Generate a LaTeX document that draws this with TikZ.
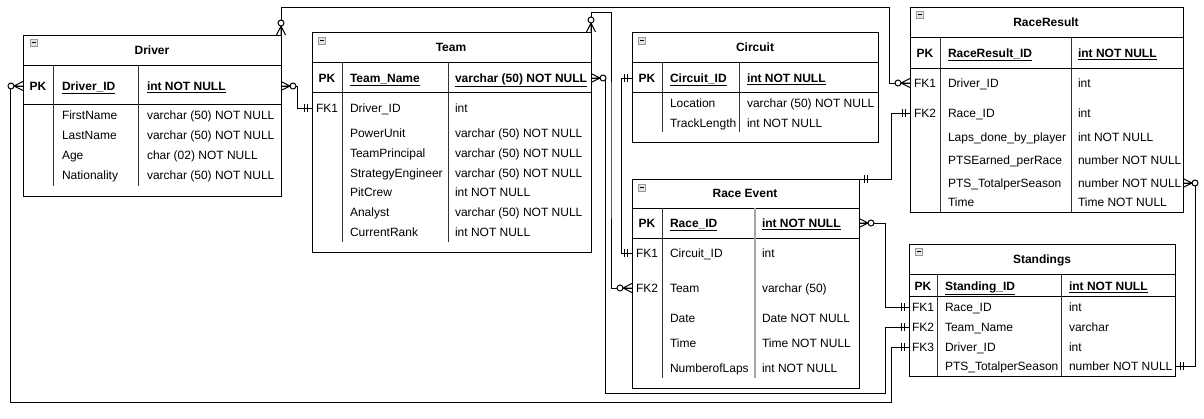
\documentclass[tikz,border=0pt]{standalone}
\usepackage{fontspec}
\setmainfont{Liberation Sans}
\begin{document}
\begin{tikzpicture}[x=1pt,y=-1pt,
  tbox/.style={draw, line width=1pt, rectangle, inner sep=0pt, outer sep=0pt, anchor=north west, fill=white},
  sepl/.style={line width=1pt},
  coll/.style={line width=1pt, black!80},
  fld/.style={anchor=west, inner sep=0pt, outer sep=0pt, font=\fontsize{12}{14}\selectfont, text height=8.6pt, text depth=0pt},
  key/.style={fld, font=\fontsize{12}{14}\selectfont\bfseries},
  ttl/.style={anchor=center, inner sep=0pt, font=\fontsize{12}{14}\selectfont\bfseries, text height=8.6pt, text depth=0pt},
  pkl/.style={ttl},
  fkl/.style={anchor=center, inner sep=0pt, font=\fontsize{12}{14}\selectfont, text height=8.6pt, text depth=0pt},
  conn/.style={line width=1pt},
  mk/.style={line width=1pt},
  icon/.pic={\draw[gray!80, fill=gray!20, line width=0.8pt] (0,0) rectangle (7,7); \draw[line width=0.8pt] (1.5,3.5) -- (5.5,3.5);},
  zmany/.pic={\draw[mk] (0,-4.5) -- (-9,0) -- (0,4.5) (0,0) -- (-9,0); \draw[mk, fill=white] (-12,0) circle (3);},
  oneone/.pic={\draw[mk] (-5,-4) -- (-5,4) (-8,-4) -- (-8,4);}
]
\useasboundingbox (0,0) rectangle (1204,418);
\fill[white] (0,0) rectangle (1204,418);

% ---------- table boxes (nodes) ----------
\node[tbox, minimum width=258pt, minimum height=161pt] (driver) at (23,35) {};
\node[tbox, minimum width=279pt, minimum height=220pt] (team) at (312,32) {};
\node[tbox, minimum width=246pt, minimum height=110pt] (circuit) at (632,32) {};
\node[tbox, minimum width=227pt, minimum height=209pt] (re) at (632,179) {};
\node[tbox, minimum width=273pt, minimum height=205pt] (rr) at (910,7) {};
\node[tbox, minimum width=266pt, minimum height=132pt] (standings) at (909,244) {};

% ---------- Driver ----------
\pic at (30,39) {icon};
\node[ttl] (drvT) at (152,50) {Driver};
\draw[sepl] (23,65) -- (281,65) (23,104) -- (281,104);
\draw[coll] (53,65) -- (53,186) (138,65) -- (138,186);
\node[pkl] (drvpkl) at (38,86) {PK};
\node[key] (drvpk) at (62,86) {\underline{Driver\_ID}};
\node[key] (drvpkt) at (147,86) {\underline{int NOT NULL}};
\node[fld] (drv1) at (62,115) {FirstName};
\node[fld] (drv1t) at (147,115) {varchar (50) NOT NULL};
\node[fld] (drv2) at (62,135) {LastName};
\node[fld] (drv2t) at (147,135) {varchar (50) NOT NULL};
\node[fld] (drv3) at (62,155) {Age};
\node[fld] (drv3t) at (147,155) {char (02) NOT NULL};
\node[fld] (drv4) at (62,175) {Nationality};
\node[fld] (drv4t) at (147,175) {varchar (50) NOT NULL};

% ---------- Team ----------
\pic at (318,37) {icon};
\node[ttl] (tmT) at (451,47) {Team};
\draw[sepl] (312,62) -- (591,62) (312,92) -- (591,92);
\draw[coll] (342,62) -- (342,242) (448,62) -- (448,242);
\node[pkl] (tmpkl) at (327,78) {PK};
\node[key] (tmpk) at (350,78) {\underline{Team\_Name}};
\node[key] (tmpkt) at (455,78) {\underline{varchar (50) NOT NULL}};
\node[fkl] (tmfk1) at (327,108) {FK1};
\node[fld] (tm1) at (350,108) {Driver\_ID};
\node[fld] (tm1t) at (455,108) {int};
\node[fld] (tm2) at (350,133) {PowerUnit};
\node[fld] (tm2t) at (455,133) {varchar (50) NOT NULL};
\node[fld] (tm3) at (350,153) {TeamPrincipal};
\node[fld] (tm3t) at (455,153) {varchar (50) NOT NULL};
\node[fld] (tm4) at (350,173) {StrategyEngineer};
\node[fld] (tm4t) at (455,173) {varchar (50) NOT NULL};
\node[fld] (tm5) at (350,192) {PitCrew};
\node[fld] (tm5t) at (455,192) {int NOT NULL};
\node[fld] (tm6) at (350,212) {Analyst};
\node[fld] (tm6t) at (455,212) {varchar (50) NOT NULL};
\node[fld] (tm7) at (350,232) {CurrentRank};
\node[fld] (tm7t) at (455,232) {int NOT NULL};

% ---------- Circuit ----------
\pic at (638,37) {icon};
\node[ttl] (cirT) at (755,47) {Circuit};
\draw[sepl] (632,62) -- (878,62) (632,92) -- (878,92);
\draw[coll] (662,62) -- (662,132) (739,62) -- (739,132);
\node[pkl] (cirpkl) at (647,78) {PK};
\node[key] (cirpk) at (670,78) {\underline{Circuit\_ID}};
\node[key] (cirpkt) at (747,78) {\underline{int NOT NULL}};
\node[fld] (cir1) at (670,103) {Location};
\node[fld] (cir1t) at (747,103) {varchar (50) NOT NULL};
\node[fld] (cir2) at (670,123) {TrackLength};
\node[fld] (cir2t) at (747,123) {int NOT NULL};

% ---------- Race Event ----------
\pic at (638,184) {icon};
\node[ttl] (reT) at (745,193) {Race Event};
\draw[sepl] (632,208) -- (859,208) (632,238) -- (859,238);
\draw[coll] (662,208) -- (662,378);
\draw[line width=1.5pt, gray!70] (755,208) -- (755,378);
\node[pkl] (repkl) at (647,223) {PK};
\node[key] (repk) at (670,223) {\underline{Race\_ID}};
\node[key] (repkt) at (762,223) {\underline{int NOT NULL}};
\node[fkl] (refk1) at (647,253) {FK1};
\node[fld] (re1) at (670,253) {Circuit\_ID};
\node[fld] (re1t) at (762,253) {int};
\node[fkl] (refk2) at (647,288) {FK2};
\node[fld] (re2) at (670,288) {Team};
\node[fld] (re2t) at (762,288) {varchar (50)};
\node[fld] (re3) at (670,318) {Date};
\node[fld] (re3t) at (762,318) {Date NOT NULL};
\node[fld] (re4) at (670,343) {Time};
\node[fld] (re4t) at (762,343) {Time NOT NULL};
\node[fld] (re5) at (670,368) {NumberofLaps};
\node[fld] (re5t) at (762,368) {int NOT NULL};

% ---------- RaceResult ----------
\pic at (916,11) {icon};
\node[ttl] (rrT) at (1046,22) {RaceResult};
\draw[sepl] (910,37) -- (1183,37) (910,68) -- (1183,68);
\draw[coll] (940,37) -- (940,212) (1071,37) -- (1071,212);
\node[pkl] (rrpkl) at (925,53) {PK};
\node[key] (rrpk) at (948,53) {\underline{RaceResult\_ID}};
\node[key] (rrpkt) at (1078,53) {\underline{int NOT NULL}};
\node[fkl] (rrfk1) at (925,83) {FK1};
\node[fld] (rr1) at (948,83) {Driver\_ID};
\node[fld] (rr1t) at (1078,83) {int};
\node[fkl] (rrfk2) at (925,113) {FK2};
\node[fld] (rr2) at (948,113) {Race\_ID};
\node[fld] (rr2t) at (1078,113) {int};
\node[fld] (rr3) at (948,137) {Laps\_done\_by\_player};
\node[fld] (rr3t) at (1078,137) {int NOT NULL};
\node[fld] (rr4) at (948,160) {PTSEarned\_perRace};
\node[fld] (rr4t) at (1078,160) {number NOT NULL};
\node[fld] (rrpts) at (948,183) {PTS\_TotalperSeason};
\node[fld] (rr5t) at (1078,183) {number NOT NULL};
\node[fld] (rr6) at (948,202) {Time};
\node[fld] (rr6t) at (1078,202) {Time NOT NULL};

% ---------- Standings ----------
\pic at (915,248) {icon};
\node[ttl] (stT) at (1042,259) {Standings};
\draw[sepl] (909,274) -- (1175,274) (909,296) -- (1175,296);
\draw[coll] (937,274) -- (937,376) (1061,274) -- (1061,376);
\node[pkl] (stpkl) at (923,286) {PK};
\node[key] (stpk) at (945,286) {\underline{Standing\_ID}};
\node[key] (stpkt) at (1069,286) {\underline{int NOT NULL}};
\node[fkl] (stfk1) at (923,307) {FK1};
\node[fld] (st1) at (945,307) {Race\_ID};
\node[fld] (st1t) at (1069,307) {int};
\node[fkl] (stfk2) at (923,327) {FK2};
\node[fld] (st2) at (945,327) {Team\_Name};
\node[fld] (st2t) at (1069,327) {varchar};
\node[fkl] (stfk3) at (923,347) {FK3};
\node[fld] (st3) at (945,347) {Driver\_ID};
\node[fld] (st3t) at (1069,347) {int};
\node[fld] (stpts) at (945,366) {PTS\_TotalperSeason};
\node[fld] (st4t) at (1069,366) {number NOT NULL};

% ---------- connectors ----------
\begin{scope}[on background layer/.style={}]
\draw[conn] (driver.west |- drvpk) -- ++(-13,0) |- (891,402) |- (standings.west |- stfk3);
\draw[conn] (driver.north east) |- (889,7) |- (rr.west |- rrfk1);
\draw[conn] (driver.east |- drvpk) -- ++(16,0) |- (team.west |- tmfk1);
\draw[conn] (team.north east) -- ++(0,-20) -| (611,150) |- (re.west |- refk2);
\draw[conn] (team.east |- tmpk) -- ++(14,0) |- (885,393) |- (standings.west |- stfk2);
\draw[conn] (circuit.west |- cirpk) -- ++(-11,0) |- (re.west |- refk1);
\draw[conn] (re.east |- repk) -| (885,300) |- (standings.west |- stfk1);
\draw[conn] (rr.west |- rrfk2) -- ++(-19,0) |- (re.north east);
\draw[conn] (rr.east |- rrpts) -- ++(12,0) |- (standings.east |- stpts);
\end{scope}

% ---------- markers ----------
\pic at (driver.west |- drvpk) {zmany};
\pic[rotate=180] at (driver.east |- drvpk) {zmany};
\pic[rotate=-90] at (driver.north east) {zmany};
\pic at (rr.west |- rrfk1) {zmany};
\pic at (team.west |- tmfk1) {oneone};
\pic[rotate=-90] at (team.north east) {zmany};
\pic at (re.west |- refk2) {zmany};
\pic[rotate=180] at (team.east |- tmpk) {zmany};
\pic at (standings.west |- stfk2) {oneone};
\pic at (circuit.west |- cirpk) {oneone};
\pic at (re.west |- refk1) {oneone};
\pic[rotate=180] at (re.east |- repk) {zmany};
\pic at (standings.west |- stfk1) {oneone};
\pic at (standings.west |- stfk3) {oneone};
\pic at (rr.west |- rrfk2) {oneone};
\pic[rotate=180] at (re.north east) {oneone};
\pic[rotate=180] at (rr.east |- rrpts) {zmany};
\pic[rotate=180] at (standings.east |- stpts) {oneone};
\end{tikzpicture}
\end{document}
